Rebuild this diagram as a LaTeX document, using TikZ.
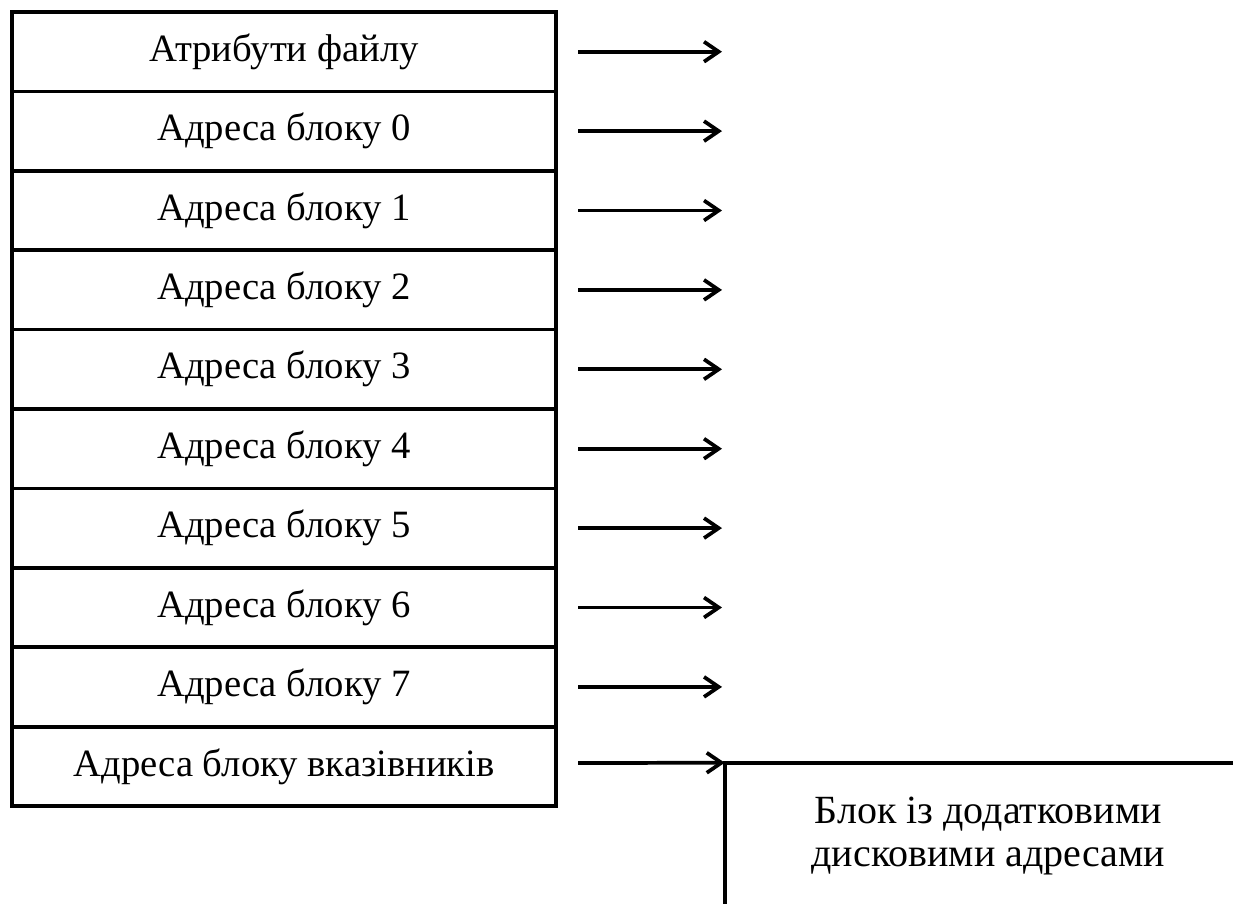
\documentclass[tikz,border=0pt]{standalone}
\usepackage{fontspec}
\setmainfont{Liberation Serif}
\usetikzlibrary{arrows.meta}

\begin{document}
\begin{tikzpicture}[
        x=0.75pt, y=-0.75pt,
        cell/.style={draw, line width=2.8pt, minimum width=408pt, minimum height=59.55pt, inner sep=0pt, font=\fontsize{29}{33}\selectfont},
        arrow/.style={-{Straight Barb[length=11pt,width=15pt]}, line width=2.8pt},
        extra/.style={minimum width=381pt, minimum height=109.5pt, inner sep=0pt, align=center, font=\fontsize{30}{32}\selectfont}
    ]
        \useasboundingbox (0,0) rectangle (1233,904);

        % Inode table
        \node[cell] (F) at (284, 51.7) {Атрибути файлу};
        \foreach \i in {0,...,7}
            \node[cell] (A\i) at (284, 131.1 + 79.4*\i) {Адреса блоку \i};
        \node[cell] (P) at (284, 766.6) {Адреса блоку вказівників};

        % Block with extra addresses (open on the right and below)
        \node[extra] (X) at (979, 836) {\hspace*{14pt}Блок із додатковими\\\hspace*{14pt}дисковими адресами};
        \draw[line width=2.8pt] (X.north east) -- (X.north west) -- (X.south west);

        % Arrows out of the table
        \foreach \k in {0,...,8} {
            \coordinate (s\k) at (578, 51.7 + 79.4*\k);
            \coordinate (e\k) at (722, 51.7 + 79.4*\k);
            \draw[arrow] (s\k) -- (e\k);
        }
        \coordinate (s9) at (578, 763);
        \draw[arrow] (s9) -- (X.north west);

    \end{tikzpicture}
\end{document}
